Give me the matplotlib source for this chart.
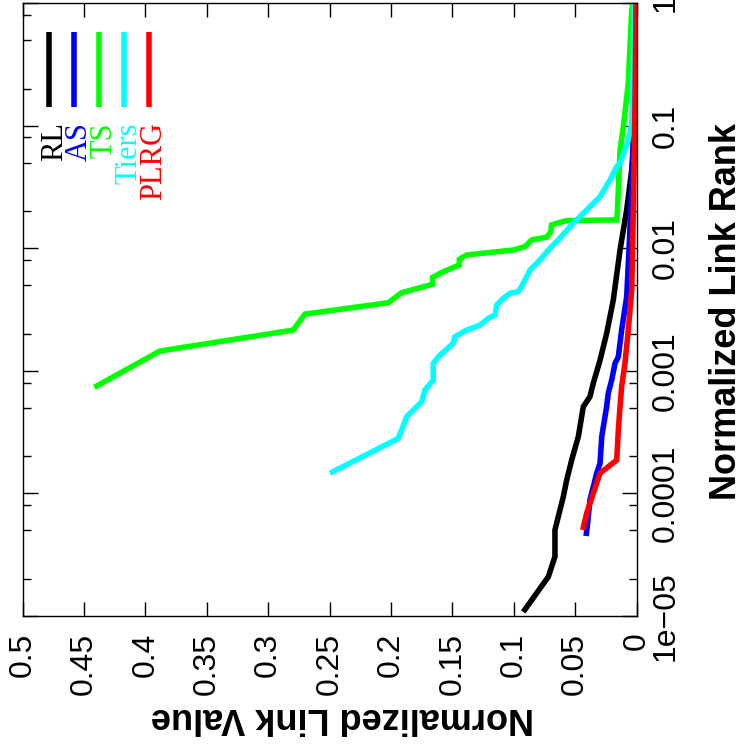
import matplotlib
matplotlib.use("Agg")
import matplotlib.pyplot as plt
from matplotlib.ticker import FixedLocator, LogLocator, NullFormatter

# normalized link value (horizontal, reversed) vs normalized link rank (log)
rl_value = [0.0922, 0.0718, 0.0664, 0.0664, 0.0637, 0.0596, 0.0568, 0.0528, 0.0474,
            0.0433, 0.0379, 0.0352, 0.0297, 0.0243, 0.0189, 0.0134, 0.0080, 0.0039,
            0.0026, 0.0016, 0.0008]
rl_rank = [1.08e-5, 2.09e-5, 3.05e-5, 5.03e-5, 6.46e-5, 9.4e-5, 1.29e-4, 1.87e-4, 2.9e-4,
           5.1e-4, 6.15e-4, 7.91e-4, 1.22e-3, 2.02e-3, 3.78e-3, 9.67e-3, 2.05e-2, 4.34e-2,
           6.3e-2, 0.162, 1.0]

as_value = [0.0411, 0.0401, 0.0379, 0.0324, 0.0297, 0.0283, 0.0270, 0.0243, 0.0230,
            0.0202, 0.0175, 0.0148, 0.0121, 0.0080, 0.0061, 0.0037, 0.0020, 0.0008]
as_rank = [4.49e-5, 5.35e-5, 8.83e-5, 1.46e-4, 1.76e-4, 2.9e-4, 3.5e-4, 5.1e-4, 6.55e-4,
           8.41e-4, 1.15e-3, 1.30e-3, 2.15e-3, 4.02e-3, 9.67e-3, 3.6e-2, 0.162, 1.0]

ts_value = [0.4415, 0.388, 0.2795, 0.270, 0.2021, 0.1912, 0.166, 0.166, 0.1573, 0.1443,
            0.1443, 0.1383, 0.1003, 0.0908, 0.0853, 0.0731, 0.0699, 0.0691, 0.0568,
            0.0161, 0.0156, 0.0134, 0.0107, 0.0067, 0.0039, 0.0029]
ts_rank = [7.33e-4, 1.45e-3, 2.15e-3, 2.90e-3, 3.59e-3, 4.34e-3, 5.08e-3, 5.79e-3, 6.43e-3,
           7.30e-3, 8.11e-3, 8.81e-3, 9.67e-3, 1.03e-2, 1.17e-2, 1.23e-2, 1.36e-2, 1.55e-2,
           1.68e-2, 1.70e-2, 1.99e-2, 6.3e-2, 9.8e-2, 0.221, 0.877, 1.0]

tiers_value = [0.2496, 0.194, 0.1871, 0.1749, 0.1722, 0.1655, 0.1655, 0.1614, 0.1492,
               0.1478, 0.1383, 0.1274, 0.1207, 0.1152, 0.1138, 0.1085, 0.1030, 0.0963,
               0.0922, 0.0867, 0.0786, 0.0704, 0.0623, 0.0541, 0.0460, 0.0406, 0.0352,
               0.0297, 0.0216, 0.0161, 0.0134, 0.0067, 0.0039, 0.0026, 0.0020]
tiers_rank = [1.46e-4, 2.81e-4, 4.22e-4, 5.60e-4, 6.97e-4, 8.41e-4, 1.15e-3, 1.30e-3, 1.68e-3,
              1.90e-3, 2.15e-3, 2.36e-3, 2.68e-3, 2.85e-3, 3.44e-3, 3.90e-3, 4.29e-3, 4.42e-3,
              5.17e-3, 6.64e-3, 8.02e-3, 1.0e-2, 1.21e-2, 1.50e-2, 1.81e-2, 2.05e-2, 2.32e-2,
              2.63e-2, 3.60e-2, 4.62e-2, 4.9e-2, 7.63e-2, 0.104, 0.343, 1.0]

plrg_value = [0.0438, 0.0406, 0.0352, 0.0297, 0.0161, 0.0148, 0.0134, 0.0121, 0.0094,
              0.0067, 0.0039, 0.0024, 0.0012, 0.0004]
plrg_rank = [5.03e-5, 6.88e-5, 1.0e-4, 1.46e-4, 1.87e-4, 3.29e-4, 5.1e-4, 7.41e-4, 1.15e-3,
             2.15e-3, 4.56e-3, 2.47e-2, 0.162, 1.0]

series = [
    ("RL", rl_value, rl_rank, "black"),
    ("AS", as_value, as_rank, "#0000ff"),
    ("TS", ts_value, ts_rank, "#00ff00"),
    ("Tiers", tiers_value, tiers_rank, "#00ffff"),
    ("PLRG", plrg_value, plrg_rank, "#ff0000"),
]

value_ticks = [0.5, 0.45, 0.4, 0.35, 0.3, 0.25, 0.2, 0.15, 0.1, 0.05, 0]
value_labels = ["0.5", "0.45", "0.4", "0.35", "0.3", "0.25", "0.2", "0.15", "0.1", "0.05", "0"]
rank_ticks = [1, 0.1, 0.01, 0.001, 0.0001, 1e-05]
rank_labels = ["1", "0.1", "0.01", "0.001", "0.0001", "1e\u221205"]

W, H = 743, 751
plt.rcParams["font.family"] = ["Liberation Sans", "DejaVu Sans"]

fig = plt.figure(figsize=(W / 100, H / 100), dpi=100)
ax = fig.add_axes([22.5 / W, 1 - 616 / H, 614 / W, 613 / H])

for name, v, r, c in series:
    ax.plot(v, r, color=c, lw=4.0, solid_capstyle="butt", solid_joinstyle="miter")

ax.set_yscale("log")
ax.set_xlim(0.5, 0)
ax.set_ylim(1e-5, 1)

ax.xaxis.set_major_locator(FixedLocator(value_ticks))
ax.set_xticklabels(value_labels, rotation=90)
ax.yaxis.set_major_locator(FixedLocator(rank_ticks))
ax.yaxis.set_minor_locator(LogLocator(base=10, subs=[2, 5, 8]))
ax.yaxis.set_minor_formatter(NullFormatter())
ax.set_yticklabels(rank_labels, rotation=90, va="center")

ax.tick_params(axis="x", which="major", direction="in", length=10, width=1,
               top=True, bottom=True, labelsize=23, pad=12)
ax.tick_params(axis="y", which="major", direction="in", length=11, width=1,
               left=True, right=True, labelleft=False, labelright=True,
               labelsize=23, pad=10)
ax.tick_params(axis="y", which="minor", direction="in", length=5.5, width=1,
               left=True, right=True)
for s in ax.spines.values():
    s.set_linewidth(1.0)

fig.text(726 / W, 1 - 311 / H, "Normalized Link Rank", rotation=90,
         ha="center", va="center", fontsize=26, fontweight="bold")
fig.text(342 / W, 1 - 718 / H, "Normalized Link Value", rotation=180,
         ha="center", va="center", fontsize=26, fontweight="bold")

# key, drawn by hand in pixel positions (gnuplot key rotated with the plot)
for i, (name, v, r, c) in enumerate(series):
    xk = 49.3 + i * 24.8
    ax.plot([(xk - 22.5) / 614] * 2, [(616 - 32) / 613, (616 - 107) / 613],
            color=c, lw=4.0, solid_capstyle="butt", transform=ax.transAxes,
            clip_on=False)
    fig.text((xk + 12.5) / W, 1 - 122 / H, name, rotation=90, rotation_mode="anchor",
             ha="right", va="baseline", color=c, fontsize=22,
             family=["Liberation Serif", "DejaVu Serif"])

fig.savefig("out.png", dpi=100)
